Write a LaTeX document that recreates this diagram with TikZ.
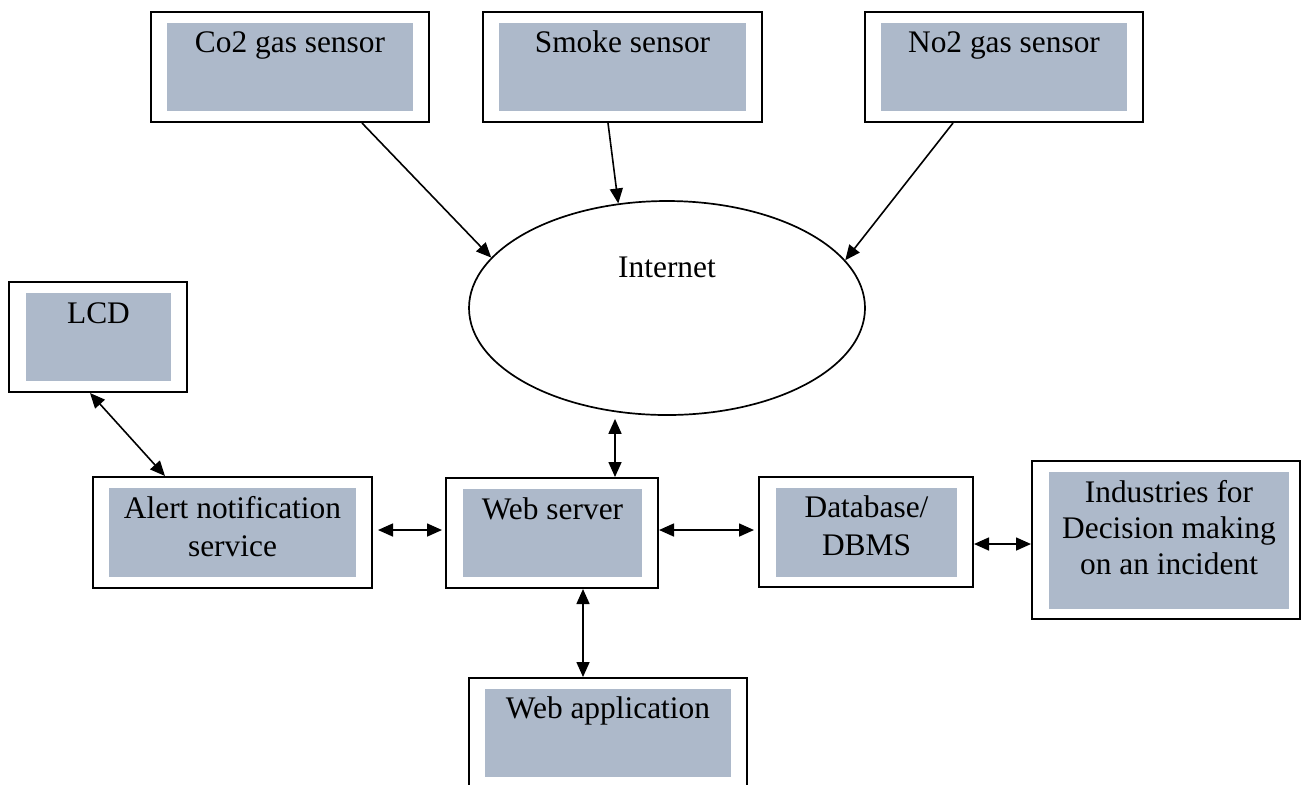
\documentclass[tikz,border=0pt]{standalone}
\usepackage{fontspec}
\setmainfont{Liberation Serif}
\usetikzlibrary{arrows.meta,shapes.geometric}
\definecolor{panelfill}{RGB}{173,185,202}
\tikzset{
  outerbox/.style={draw, line width=1pt, fill=white, inner sep=0pt},
  innerbox/.style={fill=panelfill, inner sep=0pt},
  % base anchor of a multi-line node sits on the last line
  boxtext/.style={anchor=base, align=center, inner sep=0pt,
    font=\fontsize{15.7}{18.5}\selectfont},
  tipa/.tip={Triangle[length=7.5pt,width=6.5pt]},
  onearrow/.style={line width=0.8pt, -tipa},
  biarrow/.style={line width=0.8pt, tipa-tipa},
}
\begin{document}
\begin{tikzpicture}[x=0.5pt,y=-0.5pt]
\useasboundingbox (0,0) rectangle (1304,784);

% sensors along the top
\node[outerbox, minimum width=139pt, minimum height=55pt] (co2) at (290,67) {};
\node[innerbox, minimum width=123pt, minimum height=44pt] (co2in) at (290,67) {};
\node[boxtext] (co2t) at (290,52) {Co2 gas sensor};

\node[outerbox, minimum width=139.5pt, minimum height=55pt] (smoke) at (622.5,67) {};
\node[innerbox, minimum width=123.5pt, minimum height=44pt] (smokein) at (622.5,67) {};
\node[boxtext] (smoket) at (622.5,52) {Smoke sensor};

\node[outerbox, minimum width=139pt, minimum height=55pt] (no2) at (1004,67) {};
\node[innerbox, minimum width=123pt, minimum height=44pt] (no2in) at (1004,67) {};
\node[boxtext] (no2t) at (1004,52) {No2 gas sensor};

% cloud
\node[draw, ellipse, line width=0.85pt, minimum width=198pt, minimum height=107pt, inner sep=0pt] (inet) at (667,308) {};
\node[boxtext] (inett) at (667,277) {Internet};

% display
\node[outerbox, minimum width=89pt, minimum height=55pt] (lcd) at (98,337) {};
\node[innerbox, minimum width=72.5pt, minimum height=44pt] (lcdin) at (98.5,337) {};
\node[boxtext] (lcdt) at (98.5,323) {LCD};

% middle row
\node[outerbox, minimum width=139.5pt, minimum height=55.5pt] (alert) at (232.5,532.5) {};
\node[innerbox, minimum width=123.5pt, minimum height=44.5pt] (alertin) at (232.5,532.5) {};
\node[boxtext, font=\fontsize{15.7}{19}\selectfont] (alertt) at (232.5,556) {Alert notification\\service};

\node[outerbox, minimum width=106pt, minimum height=55pt] (web) at (552,533) {};
\node[innerbox, minimum width=89.5pt, minimum height=44pt] (webin) at (552.5,533) {};
\node[boxtext] (webt) at (552.5,519) {Web server};

\node[outerbox, minimum width=107pt, minimum height=55pt] (db) at (866,532) {};
\node[innerbox, minimum width=90.5pt, minimum height=44.5pt] (dbin) at (866.5,532.5) {};
\node[boxtext, font=\fontsize{15.7}{19}\selectfont] (dbt) at (866.5,555) {Database/\\DBMS};

\node[outerbox, minimum width=134pt, minimum height=79pt] (ind) at (1166,540) {};
\node[innerbox, minimum width=120pt, minimum height=68.5pt] (indin) at (1169,540.5) {};
\node[boxtext, font=\fontsize{15.7}{18}\selectfont] (indt) at (1169,574) {Industries for\\Decision making\\on an incident};

% client
\node[outerbox, minimum width=139pt, minimum height=55pt] (app) at (608,733) {};
\node[innerbox, minimum width=123pt, minimum height=44pt] (appin) at (608,733) {};
\node[boxtext] (appt) at (608,718) {Web application};

% connectors
\draw[onearrow] ([xshift=36pt]co2.south) -- (inet.164.5);
\draw[onearrow] ([xshift=-7.25pt]smoke.south) -- (inet.115);
\draw[onearrow] ([xshift=-25.5pt]no2.south) -- (inet.15.6);
\draw[biarrow, shorten >=1.5pt] ([xshift=31.5pt]web.north) -- ([xshift=31.5pt]web.north |- inet.south);
\draw[biarrow] ([xshift=-4pt]lcd.south) -- ([xshift=-33.75pt]alert.north);
\draw[biarrow, shorten <=2.5pt, shorten >=1.5pt] ([yshift=1.25pt]alert.east) -- ([yshift=1.25pt]alert.east -| web.west);
\draw[biarrow, shorten >=2pt] ([yshift=1.5pt]web.east) -- ([yshift=1.5pt]web.east -| db.west);
\draw[biarrow] ([yshift=-6pt]db.east) -- ([yshift=-6pt]db.east -| ind.west);
\draw[biarrow] ([xshift=15.5pt]web.south) -- ([xshift=15.5pt]web.south |- app.north);
\end{tikzpicture}
\end{document}
